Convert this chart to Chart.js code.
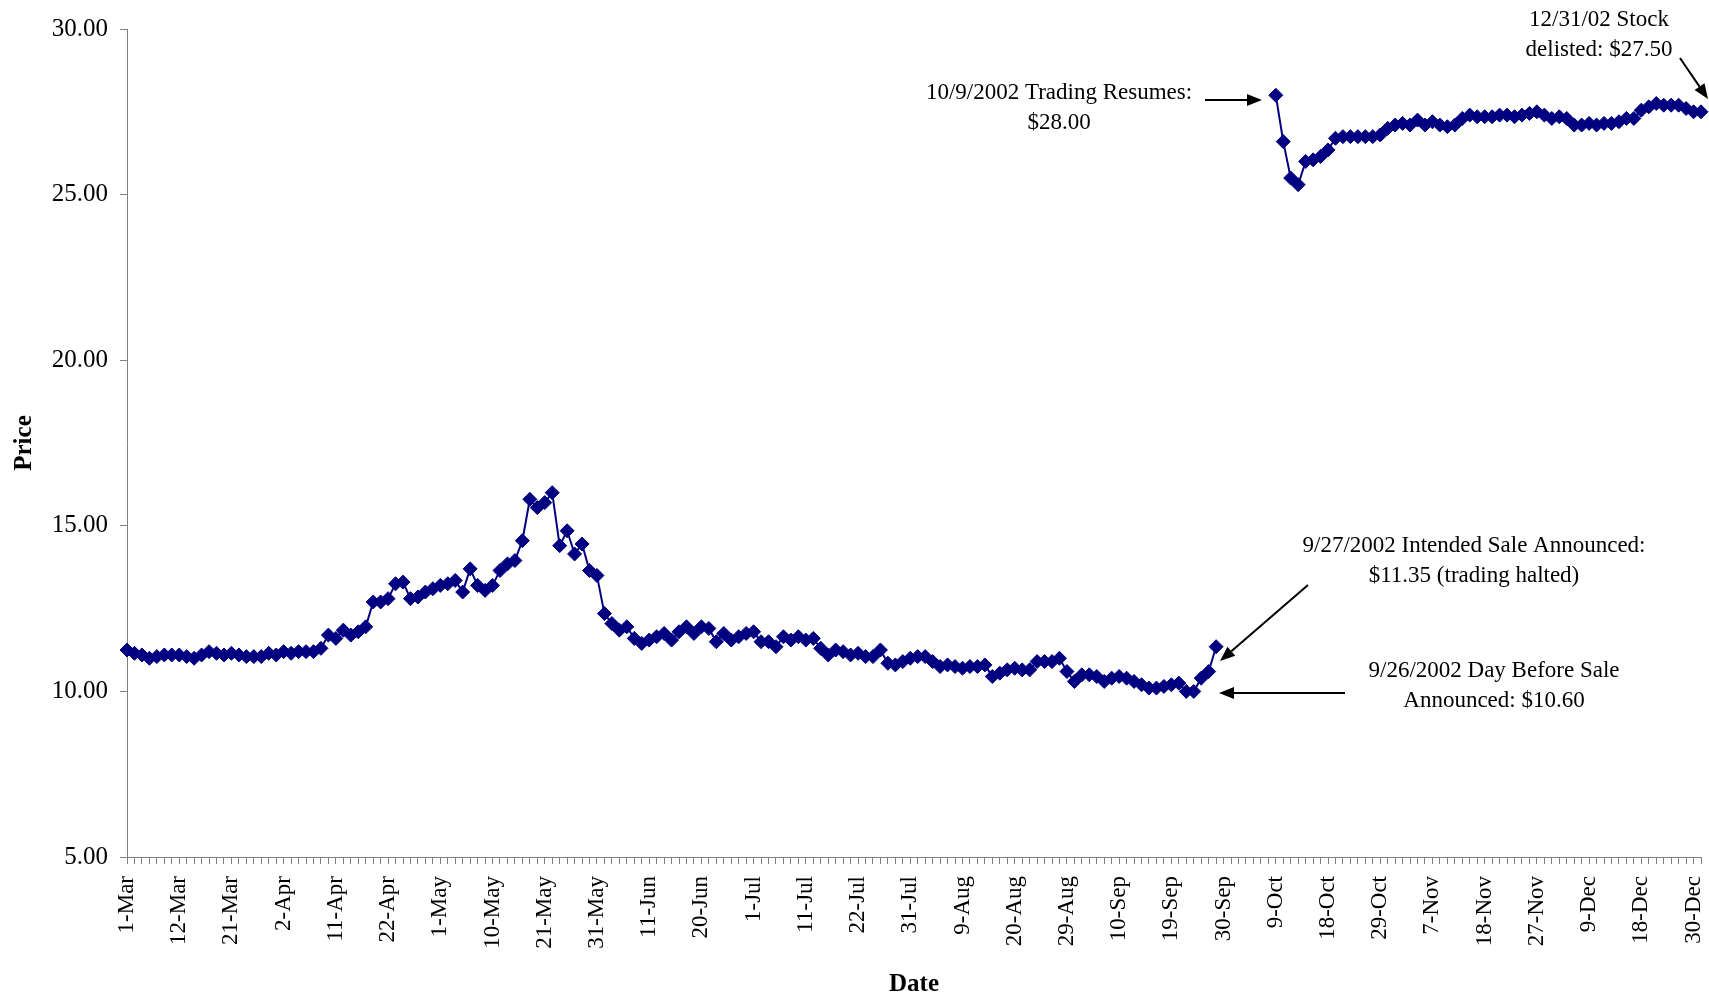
<!DOCTYPE html>
<html>
<head>
<meta charset="utf-8">
<script src="https://cdn.jsdelivr.net/npm/chart.js@4/dist/chart.umd.min.js"></script>
<style>
  html, body { margin: 0; padding: 0; background: #fff; }
  #wrap { width: 1709px; height: 996px; }
</style>
</head>
<body>
<div id="wrap"><canvas id="priceChart"></canvas></div>
<script>
// Trading days and closing prices, March - December 2002
const marDays = [1, 4, 5, 6, 7, 8, 11, 12, 13, 14, 15, 18, 19, 20, 21, 22, 25, 26, 27, 28];
const marPrices = [11.25, 11.15, 11.1, 11.0, 11.05, 11.1, 11.1, 11.1, 11.05, 11.0, 11.1, 11.2, 11.15, 11.1, 11.15, 11.1, 11.05, 11.05, 11.05, 11.15];

const aprDays = [1, 2, 3, 4, 5, 8, 9, 10, 11, 12, 15, 16, 17, 18, 19, 22, 23, 24, 25, 26, 29, 30];
const aprPrices = [11.1, 11.2, 11.15, 11.2, 11.2, 11.2, 11.3, 11.7, 11.6, 11.85, 11.7, 11.8, 11.95, 12.7, 12.7, 12.8, 13.25, 13.3, 12.8, 12.85, 13.0, 13.1];

const mayDays = [1, 2, 3, 6, 7, 8, 9, 10, 13, 14, 15, 16, 17, 20, 21, 22, 23, 24, 28, 29, 30, 31];
const mayPrices = [13.2, 13.25, 13.35, 13.0, 13.7, 13.2, 13.05, 13.2, 13.65, 13.85, 13.95, 14.55, 15.8, 15.55, 15.7, 16.0, 14.4, 14.85, 14.15, 14.45, 13.65, 13.5];

const junDays = [3, 4, 5, 6, 7, 10, 11, 12, 13, 14, 17, 18, 19, 20, 21, 24, 25, 26, 27, 28];
const junPrices = [12.35, 12.05, 11.85, 11.95, 11.6, 11.45, 11.55, 11.65, 11.75, 11.55, 11.8, 11.95, 11.75, 11.95, 11.9, 11.5, 11.75, 11.55, 11.65, 11.75];

const julDays = [1, 2, 3, 5, 8, 9, 10, 11, 12, 15, 16, 17, 18, 19, 22, 23, 24, 25, 26, 29, 30, 31];
const julPrices = [11.8, 11.5, 11.5, 11.35, 11.65, 11.55, 11.65, 11.55, 11.6, 11.3, 11.1, 11.25, 11.2, 11.1, 11.15, 11.05, 11.05, 11.25, 10.85, 10.8, 10.9, 11.0];

const augDays = [1, 2, 5, 6, 7, 8, 9, 12, 13, 14, 15, 16, 19, 20, 21, 22, 23, 26, 27, 28, 29, 30];
const augPrices = [11.05, 11.05, 10.9, 10.75, 10.8, 10.75, 10.7, 10.75, 10.75, 10.8, 10.45, 10.55, 10.65, 10.7, 10.65, 10.65, 10.9, 10.9, 10.9, 11.0, 10.6, 10.3];

const sepDays = [3, 4, 5, 6, 9, 10, 11, 12, 13, 16, 17, 18, 19, 20, 23, 24, 25, 26, 27, 30];
const sepPrices = [10.5, 10.5, 10.45, 10.3, 10.4, 10.45, 10.4, 10.3, 10.2, 10.1, 10.1, 10.15, 10.2, 10.25, 10.0, 10.0, 10.4, 10.6, 11.35, null];

const octDays = [1, 2, 3, 4, 7, 8, 9, 10, 11, 14, 15, 16, 17, 18, 21, 22, 23, 24, 25, 28, 29, 30, 31];
const octPrices = [null, null, null, null, null, null, 28.0, 26.6, 25.5, 25.3, 26.0, 26.05, 26.15, 26.35, 26.7, 26.75, 26.75, 26.75, 26.75, 26.75, 26.8, 27.0, 27.1];

const novDays = [1, 4, 5, 6, 7, 8, 11, 12, 13, 14, 15, 18, 19, 20, 21, 22, 25, 26, 27, 29];
const novPrices = [27.15, 27.1, 27.25, 27.1, 27.2, 27.1, 27.05, 27.1, 27.3, 27.4, 27.35, 27.35, 27.35, 27.4, 27.4, 27.35, 27.4, 27.45, 27.5, 27.4];

const decDays = [2, 3, 4, 5, 6, 9, 10, 11, 12, 13, 16, 17, 18, 19, 20, 23, 24, 26, 27, 30, 31];
const decPrices = [27.3, 27.35, 27.3, 27.1, 27.1, 27.15, 27.1, 27.15, 27.15, 27.2, 27.3, 27.3, 27.55, 27.65, 27.75, 27.7, 27.7, 27.7, 27.6, 27.5, 27.5];

const tickLabels = ['1-Mar', '12-Mar', '21-Mar', '2-Apr', '11-Apr', '22-Apr', '1-May', '10-May', '21-May',
  '31-May', '11-Jun', '20-Jun', '1-Jul', '11-Jul', '22-Jul', '31-Jul', '9-Aug', '20-Aug', '29-Aug',
  '10-Sep', '19-Sep', '30-Sep', '9-Oct', '18-Oct', '29-Oct', '7-Nov', '18-Nov', '27-Nov', '9-Dec',
  '18-Dec', '30-Dec'];

const yTicks = [5, 10, 15, 20, 25, 30];

const months = [
  ['Mar', marDays, marPrices], ['Apr', aprDays, aprPrices], ['May', mayDays, mayPrices],
  ['Jun', junDays, junPrices], ['Jul', julDays, julPrices], ['Aug', augDays, augPrices],
  ['Sep', sepDays, sepPrices], ['Oct', octDays, octPrices], ['Nov', novDays, novPrices],
  ['Dec', decDays, decPrices]
];

const labels = [];
const prices = [];
months.forEach(([name, days, vals]) => {
  days.forEach((d, i) => {
    labels.push(`${d}-${name}`);
    prices.push(vals[i]);
  });
});

const serif = "'Liberation Serif', 'Times New Roman', serif";

// Callout texts with arrows
const notes = [
  { lines: ['10/9/2002 Trading Resumes:', '$28.00'], cx: 1059, cy: 93, from: [1205, 100], to: [1262, 100] },
  { lines: ['12/31/02 Stock', 'delisted: $27.50'], cx: 1599, cy: 20, from: [1680, 58], to: [1708, 99] },
  { lines: ['9/27/2002 Intended Sale Announced:', '$11.35 (trading halted)'], cx: 1474, cy: 546, from: [1308, 585], to: [1220, 661] },
  { lines: ['9/26/2002 Day Before Sale', 'Announced: $10.60'], cx: 1494, cy: 671, from: [1345, 693], to: [1219, 693] }
];

function drawArrow(ctx, x1, y1, x2, y2) {
  const ang = Math.atan2(y2 - y1, x2 - x1);
  const headLen = 15, headHalf = 6;
  const bx = x2 - headLen * Math.cos(ang);
  const by = y2 - headLen * Math.sin(ang);
  ctx.beginPath();
  ctx.moveTo(x1, y1);
  ctx.lineTo(bx, by);
  ctx.stroke();
  ctx.beginPath();
  ctx.moveTo(x2, y2);
  ctx.lineTo(bx + headHalf * Math.sin(ang), by - headHalf * Math.cos(ang));
  ctx.lineTo(bx - headHalf * Math.sin(ang), by + headHalf * Math.cos(ang));
  ctx.closePath();
  ctx.fill();
}

const notesPlugin = {
  id: 'notes',
  afterDraw(chart) {
    const ctx = chart.ctx;
    ctx.save();
    ctx.fillStyle = '#000';
    ctx.strokeStyle = '#000';
    ctx.lineWidth = 2;
    ctx.font = `23px ${serif}`;
    ctx.textAlign = 'center';
    ctx.textBaseline = 'middle';
    notes.forEach(n => {
      n.lines.forEach((t, i) => ctx.fillText(t, n.cx, n.cy + i * 29.5));
      drawArrow(ctx, n.from[0], n.from[1], n.to[0], n.to[1]);
    });
    ctx.restore();
  }
};

const ctx = document.getElementById('priceChart').getContext('2d');
new Chart(ctx, {
  type: 'line',
  data: {
    labels: labels,
    datasets: [{
      label: 'Price',
      data: prices,
      borderColor: '#000080',
      backgroundColor: '#000080',
      borderWidth: 2,
      pointStyle: 'rectRot',
      pointRadius: 7,
      pointBorderWidth: 1,
      pointHoverRadius: 7,
      spanGaps: false,
      tension: 0,
      clip: false
    }]
  },
  options: {
    responsive: true,
    maintainAspectRatio: false,
    animation: false,
    layout: { padding: { top: 29, right: 3, left: 0, bottom: 0 } },
    plugins: {
      legend: { display: false },
      tooltip: { enabled: false }
    },
    scales: {
      x: {
        type: 'category',
        offset: false,
        grid: { drawOnChartArea: false, drawTicks: true, tickLength: 7, color: '#808080' },
        border: { color: '#808080' },
        ticks: {
          autoSkip: false,
          maxRotation: 90,
          minRotation: 90,
          padding: 12,
          color: '#000',
          font: { family: serif, size: 23 },
          callback(value) {
            const l = this.getLabelForValue(value);
            return tickLabels.includes(l) ? l : '';
          }
        },
        title: {
          display: true,
          text: 'Date',
          color: '#000',
          font: { family: serif, size: 25, weight: 'bold' },
          padding: { top: 0, bottom: -4 }
        },
        afterFit(scale) {
          scale.height = 139;
          scale.paddingLeft = 0;
          scale.paddingRight = 0;
        }
      },
      y: {
        min: 5,
        max: 30,
        afterBuildTicks(scale) { scale.ticks = yTicks.map(v => ({ value: v })); },
        grid: { drawOnChartArea: false, drawTicks: true, tickLength: 7, color: '#808080' },
        border: { color: '#808080' },
        ticks: {
          padding: 12,
          color: '#000',
          font: { family: serif, size: 25 },
          callback: v => Number(v).toFixed(2)
        },
        title: {
          display: true,
          text: 'Price',
          color: '#000',
          font: { family: serif, size: 25, weight: 'bold' },
          padding: { top: 10, bottom: 0 }
        },
        afterFit(scale) {
          scale.width = 127;
          scale.paddingTop = 0;
          scale.paddingBottom = 0;
        }
      }
    }
  },
  plugins: [notesPlugin]
});
</script>
</body>
</html>
